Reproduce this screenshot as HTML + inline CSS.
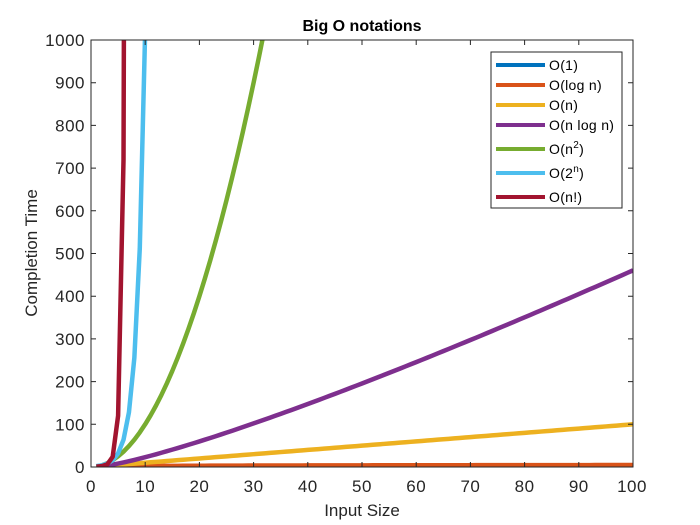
<!DOCTYPE html>
<html><head><meta charset="utf-8"><style>
html,body{margin:0;padding:0;background:#fff;}
svg{display:block;font-family:"Liberation Sans",Arial,sans-serif;}
</style></head><body>
<svg id="s" width="700" height="525" xmlns="http://www.w3.org/2000/svg">
<defs><clipPath id="c"><rect x="91" y="40" width="542" height="427"/></clipPath></defs>
<rect x="91" y="40" width="542" height="427" fill="#fff"/>
<g id="plots" clip-path="url(#c)" fill="none" stroke-width="4.5" stroke-linejoin="round"></g>
<g stroke="#262626" stroke-width="1" fill="none">
<rect x="91" y="40" width="542" height="427"/>
<path d="M91,467v-5M91,40v5M145.2,467v-5M145.2,40v5M199.4,467v-5M199.4,40v5M253.6,467v-5M253.6,40v5M307.8,467v-5M307.8,40v5M362,467v-5M362,40v5M416.2,467v-5M416.2,40v5M470.4,467v-5M470.4,40v5M524.6,467v-5M524.6,40v5M578.8,467v-5M578.8,40v5M633,467v-5M633,40v5"/>
<path d="M91,467h5M633,467h-5M91,424.3h5M633,424.3h-5M91,381.6h5M633,381.6h-5M91,338.9h5M633,338.9h-5M91,296.2h5M633,296.2h-5M91,253.5h5M633,253.5h-5M91,210.8h5M633,210.8h-5M91,168.1h5M633,168.1h-5M91,125.4h5M633,125.4h-5M91,82.7h5M633,82.7h-5M91,40h5M633,40h-5"/>
</g>
<g fill="#262626" font-size="17" letter-spacing="0.5" text-anchor="middle">
<text x="91" y="492">0</text><text x="145.2" y="492">10</text><text x="199.4" y="492">20</text><text x="253.6" y="492">30</text><text x="307.8" y="492">40</text><text x="362" y="492">50</text><text x="416.2" y="492">60</text><text x="470.4" y="492">70</text><text x="524.6" y="492">80</text><text x="578.8" y="492">90</text><text x="632" y="492">100</text>
</g>
<g fill="#262626" font-size="17" letter-spacing="0.5" text-anchor="end">
<text x="85" y="473">0</text><text x="85" y="430.3">100</text><text x="85" y="387.6">200</text><text x="85" y="344.9">300</text><text x="85" y="302.2">400</text><text x="85" y="259.5">500</text><text x="85" y="216.8">600</text><text x="85" y="174.1">700</text><text x="85" y="131.4">800</text><text x="85" y="88.7">900</text><text x="85" y="46">1000</text>
</g>
<text x="362" y="31" text-anchor="middle" font-size="16" font-weight="bold" fill="#000">Big O notations</text>
<text x="362" y="516" text-anchor="middle" font-size="17" fill="#262626">Input Size</text>
<text transform="translate(37,253) rotate(-90)" text-anchor="middle" font-size="17" fill="#262626">Completion Time</text>
<rect x="491" y="52" width="131" height="156" fill="#fff" stroke="#262626" stroke-width="1"/>
<g stroke-width="4">
<path d="M496,65h49" stroke="#0072BD"/>
<path d="M496,85h49" stroke="#D95319"/>
<path d="M496,105h49" stroke="#EDB120"/>
<path d="M496,125h49" stroke="#7E2F8E"/>
<path d="M496,149h49" stroke="#77AC30"/>
<path d="M496,173h49" stroke="#4DBEEE"/>
<path d="M496,197h49" stroke="#A2142F"/>
</g>
<g font-size="14" letter-spacing="0.3" fill="#000">
<text x="549" y="70">O(1)</text>
<text x="549" y="90">O(log n)</text>
<text x="549" y="110">O(n)</text>
<text x="549" y="130">O(n log n)</text>
<text x="549" y="154">O(n<tspan dy="-6" font-size="10">2</tspan><tspan dy="6">)</tspan></text>
<text x="549" y="178">O(2<tspan dy="-6" font-size="10">n</tspan><tspan dy="6">)</tspan></text>
<text x="549" y="202">O(n!)</text>
</g>
<script>
var X=function(v){return 91+v*5.42},Y=function(v){return 467-v*0.427};
var cols=["#0072BD","#D95319","#EDB120","#7E2F8E","#77AC30","#4DBEEE","#A2142F"];
function fact(n){var r=1;for(var i=2;i<=n;i++)r*=i;return r;}
var fns=[function(n){return 1},function(n){return Math.log(n)},function(n){return n},function(n){return n*Math.log(n)},function(n){return n*n},function(n){return Math.pow(2,n)},fact];
var ns="http://www.w3.org/2000/svg",P=document.getElementById("plots");
fns.forEach(function(f,k){var d="";for(var n=1;n<=100;n++){var v=Math.min(f(n),5000);d+=(n==1?"M":"L")+X(n).toFixed(2)+","+Y(v).toFixed(2);}
var p=document.createElementNS(ns,"path");p.setAttribute("d",d);p.setAttribute("stroke",cols[k]);P.appendChild(p);});
</script>
</svg>
</body></html>
